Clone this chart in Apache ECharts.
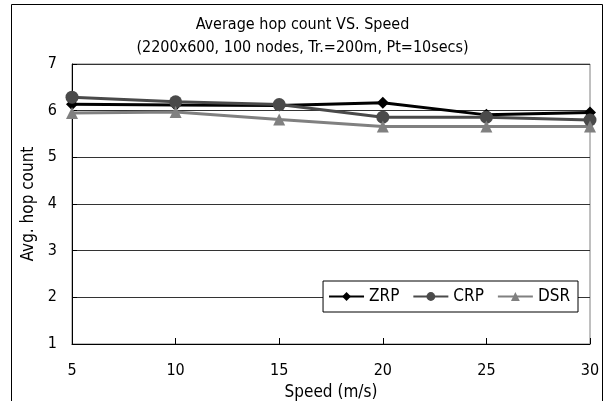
<!DOCTYPE html>
<html><head><meta charset="utf-8">
<script src="https://cdn.jsdelivr.net/npm/echarts@6/dist/echarts.min.js"></script>
<style>html,body{margin:0;padding:0;background:#fff}#c{width:605px;height:401px}</style>
</head><body><div id="c"></div>
<script>
const speeds = [5, 10, 15, 20, 25, 30];
const zrp = [6.14, 6.12, 6.11, 6.17, 5.91, 5.96];
const crp = [6.29, 6.19, 6.13, 5.86, 5.86, 5.80];
const dsr = [5.95, 5.97, 5.81, 5.66, 5.66, 5.66];
const yTicks = [1, 2, 3, 4, 5, 6, 7];
const FONT = '"DejaVu Sans Condensed", "DejaVu Sans", sans-serif';
const chart = echarts.init(document.getElementById('c'), null, {renderer: 'canvas'});
function mk(name, data, color, symbol, size) {
  return {
    name, type: 'line', data: speeds.map((s, i) => [s, data[i]]),
    symbol, symbolSize: size, showSymbol: true,
    lineStyle: {color, width: 3}, itemStyle: {color},
    animation: false, z: 3
  };
}
chart.setOption({
  backgroundColor: '#fff',
  animation: false,
  textStyle: {fontFamily: FONT},
  title: {
    text: 'Average hop count VS. Speed\n(2200x600, 100 nodes, Tr.=200m, Pt=10secs)',
    left: 'center', top: 8,
    textStyle: {fontFamily: FONT, fontSize: 16, fontWeight: 'normal', color: '#000', lineHeight: 23}
  },
  legend: {
    right: 27, top: 281,
    backgroundColor: '#fff', borderColor: '#000', borderWidth: 1, borderRadius: 0,
    padding: [7, 8, 7, 5], itemGap: 13, itemWidth: 35, itemHeight: 11,
    textStyle: {fontFamily: FONT, fontSize: 17, color: '#000'},
    data: ['ZRP', 'CRP', 'DSR']
  },
  grid: {left: 72, right: 15, top: 64, bottom: 57, containLabel: false, outerBoundsMode: 'none',
    show: true, borderColor: '#808080', borderWidth: 1},
  xAxis: {
    type: 'value', min: 5, max: 30, interval: 5,
    name: 'Speed (m/s)', nameLocation: 'middle', nameGap: 32,
    nameTextStyle: {fontFamily: FONT, fontSize: 17, color: '#000'},
    axisLine: {lineStyle: {color: '#000', width: 1}},
    axisTick: {inside: true, length: 6, lineStyle: {color: '#000'}},
    axisLabel: {fontFamily: FONT, fontSize: 16, color: '#000', margin: 19,
      formatter: v => String(v)},
    splitLine: {show: false}
  },
  yAxis: {
    type: 'value', min: 1, max: 7, interval: 1,
    name: 'Avg. hop count', nameLocation: 'middle', nameGap: 33,
    nameTextStyle: {fontFamily: FONT, fontSize: 17, color: '#000'},
    axisLine: {show: true, lineStyle: {color: '#000', width: 1}},
    axisTick: {show: true, inside: true, length: 5, lineStyle: {color: '#000'}},
    axisLabel: {fontFamily: FONT, fontSize: 16, color: '#000', margin: 15,
      formatter: v => yTicks.includes(v) ? String(v) : ''},
    splitLine: {show: true, lineStyle: {color: '#333', width: 1}}
  },
  graphic: [{
    type: 'rect', shape: {x: 11.5, y: 4.5, width: 591, height: 420},
    style: {fill: 'none', stroke: '#000', lineWidth: 1}, z: -1, silent: true
  }],
  series: [
    mk('ZRP', zrp, '#000000', 'diamond', 12),
    mk('CRP', crp, '#4a4a4a', 'circle', 13),
    mk('DSR', dsr, '#808080', 'triangle', 12)
  ]
});
</script></body></html>
